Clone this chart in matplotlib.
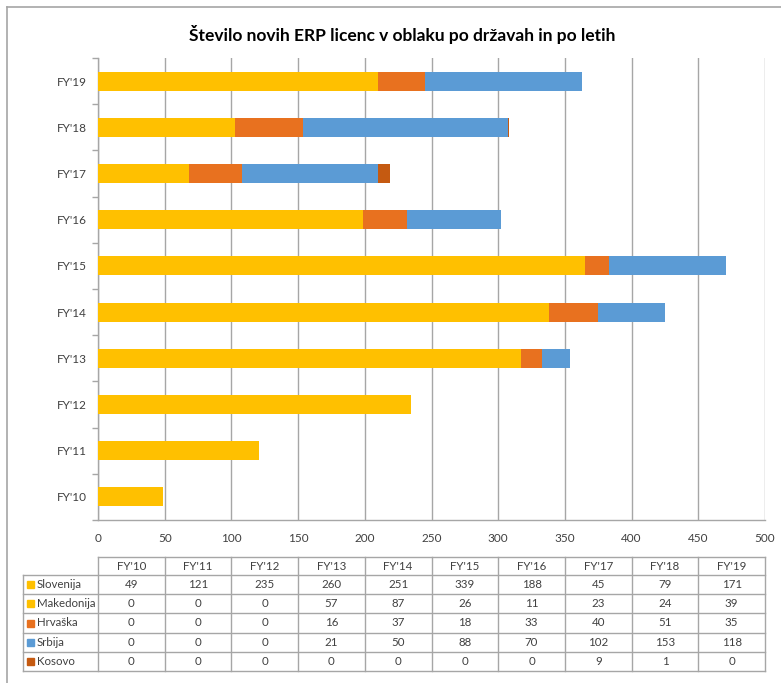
import matplotlib
matplotlib.use("Agg")
import matplotlib.pyplot as plt
from matplotlib.lines import Line2D
from matplotlib.patches import Rectangle
import numpy as np

plt.rcParams['font.family'] = ['Lato', 'DejaVu Sans']

years = ["FY'10", "FY'11", "FY'12", "FY'13", "FY'14", "FY'15", "FY'16", "FY'17", "FY'18", "FY'19"]
countries = ["Slovenija", "Makedonija", "Hrvaška", "Srbija", "Kosovo"]
slovenija = [49, 121, 235, 260, 251, 339, 188, 45, 79, 171]
makedonija = [0, 0, 0, 57, 87, 26, 11, 23, 24, 39]
hrvaska = [0, 0, 0, 16, 37, 18, 33, 40, 51, 35]
srbija = [0, 0, 0, 21, 50, 88, 70, 102, 153, 118]
kosovo = [0, 0, 0, 0, 0, 0, 0, 9, 1, 0]
series = [slovenija, makedonija, hrvaska, srbija, kosovo]
colors = ["#FFC000", "#FFC000", "#E8711F", "#5B9BD5", "#C55A11"]
title = "Število novih ERP licenc v oblaku po državah in po letih"

W, H = 781, 683
fig = plt.figure(figsize=(W / 100, H / 100), dpi=100)

def px_rect(x0, y0, x1, y1):
    return [x0 / W, 1 - y1 / H, (x1 - x0) / W, (y1 - y0) / H]

# outer frame (left/top visible)
fig.add_artist(Line2D([7 / W, 7 / W], [0, 1 - 7 / H], color="#A6A6A6", lw=1.2, transform=fig.transFigure))
fig.add_artist(Line2D([7 / W, 1], [1 - 7 / H, 1 - 7 / H], color="#A6A6A6", lw=1.2, transform=fig.transFigure))

ax = fig.add_axes(px_rect(98, 58, 765, 520))
y = np.arange(len(years))
left = np.zeros(len(years))
for vals, c in zip(series, colors):
    ax.barh(y, vals, left=left, height=0.41, color=c, zorder=3)
    left += np.array(vals)

ax.set_xlim(0, 500)
ax.set_ylim(-0.5, len(years) - 0.5)
ax.set_xticks(np.arange(0, 501, 50))
ax.grid(axis='x', color="#A6A6A6", lw=1, zorder=0)
ax.set_yticks(y)
ax.set_yticklabels(years)
ax.set_yticks(np.arange(-0.5, len(years), 1), minor=True)
ax.tick_params(axis='y', which='major', length=0, pad=8, labelsize=8.5, labelcolor="#404040")
ax.tick_params(axis='y', which='minor', length=4, width=1, color="#A6A6A6", direction='out')
ax.tick_params(axis='x', length=0, pad=9, labelsize=8.5, labelcolor="#404040")
for s in ['top', 'right']:
    ax.spines[s].set_visible(False)
for s in ['left', 'bottom']:
    ax.spines[s].set_color("#A6A6A6")
    ax.spines[s].set_linewidth(1)

fig.text(402 / W, 1 - 35 / H, title, ha='center', va='center', fontsize=12.5, fontweight='bold', color="#000000")

# data table
tax = fig.add_axes(px_rect(20, 555, 770, 675))
tax.set_xlim(20, 770)
tax.set_ylim(675, 555)
tax.axis('off')
lc = "#A6A6A6"
x0, x_end = 98, 765
col_w = (x_end - x0) / len(years)
hy0, hy1 = 557, 575
row_h = (671 - hy1) / len(countries)
lab_x0 = 23
fs = 8.3
tc = "#404040"
# header
tax.plot([x0, x_end], [hy0, hy0], color=lc, lw=1)
for i in range(len(years) + 1):
    tax.plot([x0 + i * col_w] * 2, [hy0, 671], color=lc, lw=1)
for i, yr in enumerate(years):
    tax.text(x0 + (i + 0.5) * col_w, (hy0 + hy1) / 2, yr, ha='center', va='center', fontsize=fs, color=tc)
# body
for r in range(len(countries) + 1):
    yy = hy1 + r * row_h
    tax.plot([lab_x0, x_end], [yy, yy], color=lc, lw=1)
tax.plot([lab_x0, lab_x0], [hy1, 671], color=lc, lw=1)
for r, (name, vals, c) in enumerate(zip(countries, series, colors)):
    yc = hy1 + (r + 0.5) * row_h
    tax.add_patch(Rectangle((27, yc - 3.5), 7, 7, color=c))
    tax.text(37, yc, name, ha='left', va='center', fontsize=fs, color=tc)
    for i, v in enumerate(vals):
        tax.text(x0 + (i + 0.5) * col_w, yc, str(v), ha='center', va='center', fontsize=fs, color=tc)

fig.savefig("out.png", dpi=100)
